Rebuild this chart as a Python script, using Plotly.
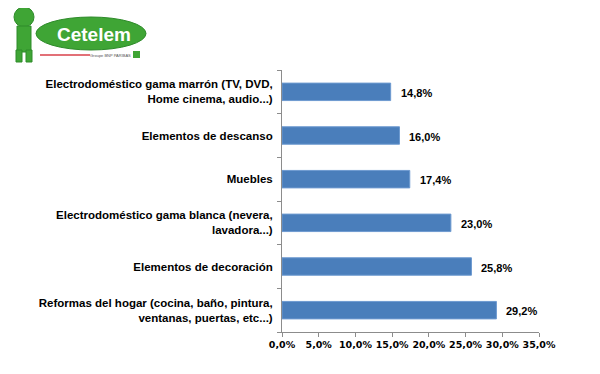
import plotly.graph_objects as go

categories = [
    "Reformas del hogar (cocina, baño, pintura,<br>ventanas, puertas, etc...)",
    "Elementos de decoración",
    "Electrodoméstico gama blanca (nevera,<br>lavadora...)",
    "Muebles",
    "Elementos de descanso",
    "Electrodoméstico gama marrón (TV, DVD,<br>Home cinema, audio...)",
]
values = [29.2, 25.8, 23.0, 17.4, 16.0, 14.8]
x_ticks = [0, 5, 10, 15, 20, 25, 30, 35]
x_tick_labels = ["0,0%", "5,0%", "10,0%", "15,0%", "20,0%", "25,0%", "30,0%", "35,0%"]

value_labels = [f"{v:.1f}%".replace(".", ",") for v in values]

# page body has an 8px margin, so figure is drawn from (8, 8)
OFF = 8
W, H = 600 - OFF, 374 - OFF
PL, PR, PT, PB = 282, 539, 70, 332   # plot area in screen pixels
L, T = PL - OFF, PT - OFF
R, B = W - (PR - OFF), H - (PB - OFF)
PW, PH = PR - PL, PB - PT

def px(x):
    return (x - PL) / PW

def py(y):
    return (PB - y) / PH

fig = go.Figure()
fig.add_trace(go.Bar(
    x=values, y=categories, orientation="h",
    marker=dict(color="#4A7EBB", line=dict(color="#6E9AD0", width=1)),
    width=0.4,
    hoverinfo="skip",
))

for c, v, t in zip(categories, values, value_labels):
    fig.add_annotation(x=v, y=c, text=t, showarrow=False, xanchor="left",
                       xshift=8, yshift=-1,
                       font=dict(family="Liberation Sans, Arial", size=11, color="#000000", weight="bold"))

# Logo approximation (drawn with shapes)
green = "#3FA535"
dark = "#2E8B2A"
fig.add_shape(type="circle", xref="paper", yref="paper",
              x0=px(36), x1=px(146), y0=py(50), y1=py(17),
              fillcolor=green, line=dict(color=dark, width=1))
fig.add_shape(type="line", xref="paper", yref="paper",
              x0=px(40), x1=px(90), y0=py(55), y1=py(55),
              line=dict(color="#D9404A", width=1.5))
fig.add_shape(type="circle", xref="paper", yref="paper",
              x0=px(14), x1=px(34), y0=py(27), y1=py(7),
              fillcolor=green, line=dict(color=dark, width=1))
fig.add_shape(type="rect", xref="paper", yref="paper",
              x0=px(17), x1=px(31), y0=py(52), y1=py(26),
              fillcolor=green, line=dict(color=dark, width=1))
fig.add_shape(type="rect", xref="paper", yref="paper",
              x0=px(16), x1=px(22), y0=py(62), y1=py(50),
              fillcolor=green, line=dict(color=dark, width=1))
fig.add_shape(type="rect", xref="paper", yref="paper",
              x0=px(26), x1=px(32), y0=py(62), y1=py(50),
              fillcolor=green, line=dict(color=dark, width=1))
fig.add_shape(type="rect", xref="paper", yref="paper",
              x0=px(133), x1=px(140), y0=py(58), y1=py(51),
              fillcolor=green, line=dict(width=0))
fig.add_annotation(xref="paper", yref="paper", x=px(94), y=py(34), text="Cetelem",
                   showarrow=False, xanchor="center", yanchor="middle",
                   font=dict(family="Liberation Sans, Arial", size=19, color="#FFFFFF", weight="bold"))
fig.add_annotation(xref="paper", yref="paper", x=px(110), y=py(55), text="Groupe BNP PARIBAS",
                   showarrow=False, xanchor="center", yanchor="middle",
                   font=dict(family="Liberation Sans, Arial", size=4, color="#555555"))

fig.update_layout(
    width=W, height=H,
    margin=dict(l=L, r=R, t=T, b=B, autoexpand=False),
    paper_bgcolor="#FFFFFF", plot_bgcolor="#FFFFFF",
    showlegend=False,
    bargap=0.6,
    font=dict(family="Liberation Sans, Arial", color="#000000"),
    xaxis=dict(
        range=[0, 35], tickmode="array", tickvals=x_ticks, ticktext=x_tick_labels,
        showgrid=False, zeroline=False, showline=True, linecolor="#8C8C8C", linewidth=1,
        ticks="outside", ticklen=4, tickcolor="#8C8C8C", automargin=False,
        tickfont=dict(family="DejaVu Sans, Verdana", size=9.5, color="#000000", weight="bold"),
        fixedrange=True,
    ),
    yaxis=dict(
        categoryorder="array", categoryarray=categories,
        showgrid=False, showline=True, linecolor="#8C8C8C", linewidth=1,
        ticks="outside", ticklen=4, tickcolor="#8C8C8C", tickson="boundaries",
        ticklabelstandoff=6, automargin=False,
        tickfont=dict(family="Liberation Sans, Arial", size=11.5, color="#000000", weight="bold"),
        fixedrange=True,
    ),
)

fig.write_html("out.html")
